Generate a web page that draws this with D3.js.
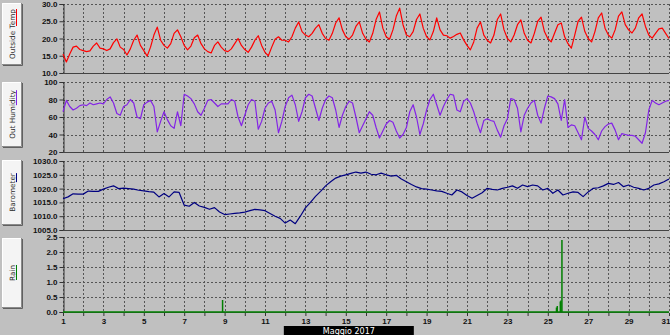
<!DOCTYPE html>
<html><head><meta charset="utf-8">
<script src="https://cdn.jsdelivr.net/npm/d3@7"></script>
<style>
html,body{margin:0;padding:0;background:#c0c0c0;}
svg{display:block;}
</style></head>
<body>
<svg id="chart" width="670" height="335"></svg>
<script>
// ---------------- DATA ----------------
const monthLabel = "Maggio 2017";
const dayTicks = d3.range(1, 32);            // 1..31
const dayLabels = d3.range(1, 32, 2);        // odd days labelled
const panelTitles = ["Outside Temp", "Out Humidity", "Barometer", "Rain"];

// Outside temp (°C), every 4 h from May 1 00:00
const tempValues = [
15.5,13.2,15.5,17.5,17.8,16.8,
16.5,16.2,16.4,17.8,18.7,17.2,
17.0,16.5,17.0,18.8,19.9,17.5,
16.8,15.2,17.0,19.5,21.0,18.0,
16.5,14.9,17.5,21.0,23.3,19.5,
18.0,17.2,18.5,21.5,22.5,20.5,
18.0,16.7,17.8,20.2,21.0,18.5,
17.0,16.2,15.8,18.0,19.0,17.5,
16.5,16.2,17.0,18.5,20.0,18.0,
16.8,16.0,17.5,19.5,20.8,18.0,
16.0,15.0,17.5,19.8,20.5,19.5,
19.5,19.0,20.5,23.0,24.8,22.0,
21.0,20.5,21.5,23.0,24.0,21.5,
20.0,19.5,21.5,24.5,26.0,22.5,
20.5,19.8,21.0,23.5,24.8,21.5,
19.8,19.0,21.5,25.5,27.7,23.0,
20.5,19.8,22.5,26.5,28.8,24.0,
21.0,20.5,22.0,25.5,27.1,23.0,
20.5,19.6,22.0,26.0,22.5,21.0,
20.8,20.1,20.6,21.2,21.6,19.6,
18.0,16.7,19.0,23.0,24.8,21.0,
19.5,18.7,21.0,25.5,27.1,22.5,
20.0,19.0,21.0,24.0,25.4,21.5,
19.5,18.7,21.5,25.0,26.2,22.0,
20.0,19.0,21.5,24.0,24.5,20.5,
18.5,17.2,21.0,25.0,26.2,22.0,
20.0,19.0,22.0,26.0,27.4,23.0,
21.0,20.1,22.5,26.5,27.7,24.0,
22.5,21.6,23.0,26.0,27.1,23.5,
21.0,20.1,21.5,22.8,23.0,21.5,
20.0];

// Outside humidity (%), every 4 h
const humValues = [
66,79,72,68,70,73,
74,73,76,74,75,76,
75,80,83,76,64,62,
72,74,80,76,60,58,
74,77,79,72,43,55,
66,57,50,47,66,50,
86,84,81,75,66,62,
70,79,80,76,72,75,
75,75,80,78,60,50,
62,74,80,78,46,55,
70,76,78,68,42,55,
72,82,85,74,55,66,
82,86,84,70,56,70,
80,84,82,68,48,62,
72,78,76,60,42,50,
58,66,62,48,36,44,
52,56,54,44,36,40,
48,66,74,60,40,52,
68,80,86,74,62,72,
80,86,85,68,66,78,
81,76,66,53,42,56,
58,56,55,45,37,50,
58,81,80,70,43,62,
70,76,79,62,53,70,
84,83,81,75,56,80,
48,51,50,42,34,60,
47,44,40,34,44,49,
52,53,45,34,41,40,
39,39,38,34,30,42,
68,79,76,74,76,78,
79];

// Barometer (hPa), every 6 h
const baroValues = [
1016.3,1017.0,1018.1,1018.0,
1018.0,1019.1,1019.0,1019.0,
1019.8,1020.5,1021.0,1020.0,
1020.2,1020.0,1019.8,1019.4,
1019.2,1018.9,1018.7,1017.0,
1018.2,1017.0,1018.8,1018.6,
1014.0,1013.6,1015.0,1013.7,
1013.2,1012.5,1013.1,1011.5,
1010.6,1010.8,1011.0,1011.2,
1011.5,1012.0,1012.5,1012.3,
1012.0,1011.0,1010.0,1009.2,
1007.5,1008.6,1007.3,1010.0,
1013.0,1015.0,1017.2,1019.0,
1021.0,1022.5,1023.8,1024.5,
1025.0,1025.5,1026.0,1025.6,
1026.0,1025.2,1025.0,1025.6,
1025.0,1024.5,1024.8,1023.5,
1022.5,1021.5,1020.6,1020.0,
1019.8,1019.5,1019.2,1019.0,
1018.3,1017.7,1019.5,1018.8,
1017.5,1016.5,1017.5,1018.5,
1020.1,1019.7,1019.5,1020.1,
1020.5,1021.0,1020.1,1021.3,
1020.7,1021.3,1021.0,1019.5,
1020.1,1018.3,1019.5,1017.7,
1018.3,1018.8,1018.6,1017.1,
1018.8,1020.1,1020.3,1021.0,
1021.9,1021.5,1022.2,1020.7,
1021.3,1020.5,1020.1,1019.5,
1020.1,1021.3,1021.7,1022.5,
1023.5];

// Rain events (day of month incl. fraction, mm)
const rainDays    = [8.9, 25.43, 25.47, 25.62, 25.65, 25.7];
const rainAmounts = [0.4, 0.15, 0.2, 0.35, 0.38, 2.4];

// Axis tick values
const tempTicks = [10, 15, 20, 25, 30];
const humTicks  = [20, 40, 60, 80, 100];
const baroTicks = [1005, 1010, 1015, 1020, 1025, 1030];
const rainTicks = [0, 0.5, 1.0, 1.5, 2.0, 2.5];

// ---------------- DRAW ----------------
const svg = d3.select("#chart");
const dayToDate = d => new Date(Date.UTC(2017, 4, 1) + (d - 1) * 864e5);
const x = d3.scaleUtc().domain([dayToDate(1), dayToDate(31)]).range([63, 669]);

const panels = [
  {title: panelTitles[0], values: tempValues, step: 4, domain: [10,30], range:[73,4], ticks: tempTicks, fmt: d3.format(".1f"), color:"#ff0000", btn:[3,65], ul:17},
  {title: panelTitles[1], values: humValues, step: 4, domain: [20,100], range:[152,82], ticks: humTicks, fmt: d3.format("d"), color:"#8424e6", btn:[82,147], ul:15},
  {title: panelTitles[2], values: baroValues, step: 6, domain: [1005,1030], range:[230,161], ticks: baroTicks, fmt: d3.format(".1f"), color:"#000080", btn:[160,225], ul:9},
  {title: panelTitles[3], values: null, step: 0, domain: [0,2.5], range:[312,237], ticks: rainTicks, fmt: d3.format(".1f"), color:"#008000", btn:[238,308], ul:15}
];

const labelFont = "'Liberation Sans', Arial, sans-serif";

panels.forEach((p, pi) => {
  const y = d3.scaleLinear().domain(p.domain).range(p.range);
  const g = svg.append("g");

  // button
  const b = g.append("g");
  const [b0, b1] = p.btn;
  b.append("rect").attr("x", 2).attr("y", b0).attr("width", 20).attr("height", b1 - b0).attr("fill", "#f4f4f4");
  b.append("path").attr("d", `M2.5,${b1}V${b0+0.5}H22`).attr("stroke", "#ffffff").attr("fill", "none");
  b.append("path").attr("d", `M2,${b1-0.5}H21.5V${b0}`).attr("stroke", "#8a8a8a").attr("fill", "none");
  b.append("path").attr("d", `M3,${b1+0.5}H22.5V${b0+1}`).attr("stroke", "#606060").attr("fill", "none");
  const cy = (b0 + b1) / 2;
  const t = b.append("text")
    .attr("transform", `translate(14.5,${cy}) rotate(-90)`)
    .attr("text-anchor", "middle")
    .attr("font-family", "Tahoma, 'DejaVu Sans', sans-serif")
    .attr("font-size", 7.3)
    .attr("fill", "#303030")
    .text(p.title);
  const len = t.node().getComputedTextLength();
  const top = cy - len / 2;
  b.append("line").attr("x1", 16.5).attr("x2", 16.5).attr("y1", top).attr("y2", top + p.ul)
    .attr("stroke", p.color).attr("stroke-width", 1);

  // horizontal grid
  g.append("g").selectAll("line").data(p.ticks).join("line")
    .attr("x1", 63).attr("x2", 669)
    .attr("y1", d => Math.round(y(d)) + 0.5).attr("y2", d => Math.round(y(d)) + 0.5)
    .attr("stroke", "#555").attr("stroke-width", 1).attr("stroke-dasharray", "2,2");
  // vertical grid (every day)
  g.append("g").selectAll("line").data(dayTicks).join("line")
    .attr("x1", d => Math.round(x(dayToDate(d))) + 0.5).attr("x2", d => Math.round(x(dayToDate(d))) + 0.5)
    .attr("y1", p.range[1]).attr("y2", p.range[0])
    .attr("stroke", "#555").attr("stroke-width", 1).attr("stroke-dasharray", "2,2");

  // y axis
  const ax = d3.axisLeft(y).tickValues(p.ticks).tickFormat(p.fmt).tickSize(4).tickPadding(2);
  const axG = g.append("g").attr("transform", "translate(63.5,0)").call(ax);
  axG.select(".domain").attr("stroke", "#333");
  axG.selectAll(".tick line").attr("stroke", "#333");
  axG.selectAll(".tick text").attr("font-family", labelFont).attr("font-weight", "bold")
    .attr("font-size", 8).attr("fill", "#111");
  // bottom solid line
  g.append("line").attr("x1", 63).attr("x2", 669)
    .attr("y1", Math.round(p.range[0]) + 0.5).attr("y2", Math.round(p.range[0]) + 0.5)
    .attr("stroke", "#444");

  if (p.values) {
    const pts = p.values.map((v, i) => [dayToDate(1 + i * p.step / 24), v]);
    g.append("path").datum(pts)
      .attr("d", d3.line().x(d => x(d[0])).y(d => y(d[1])))
      .attr("fill", "none").attr("stroke", p.color).attr("stroke-width", 1.2)
      .attr("stroke-linejoin", "round");
  } else {
    // rain baseline + bars
    g.append("line").attr("x1", 63).attr("x2", 669)
      .attr("y1", y(0)).attr("y2", y(0)).attr("stroke", p.color).attr("stroke-width", 1.5);
    g.append("g").selectAll("line").data(rainDays.map((d, i) => [d, rainAmounts[i]])).join("line")
      .attr("x1", d => x(dayToDate(d[0]))).attr("x2", d => x(dayToDate(d[0])))
      .attr("y1", y(0)).attr("y2", d => y(d[1]))
      .attr("stroke", p.color).attr("stroke-width", 1.5);

    // x axis
    const dayOf = d => Math.round((d - dayToDate(1)) / 864e5) + 1;
    const xa = d3.axisBottom(x).tickValues(dayTicks.map(dayToDate)).tickSize(3).tickPadding(2)
      .tickFormat(d => dayLabels.includes(dayOf(d)) ? dayOf(d) : "");
    const xG = g.append("g").attr("transform", `translate(0,${y(0) + 1})`).call(xa);
    xG.select(".domain").remove();
    xG.selectAll(".tick line").attr("stroke", "#333");
    xG.selectAll(".tick text").attr("font-family", labelFont).attr("font-weight", "bold")
      .attr("font-size", 8).attr("fill", "#111")
      .attr("text-anchor", d => dayOf(d) === 31 ? "end" : "middle")
      .attr("dx", d => dayOf(d) === 31 ? 1 : 0);
  }
});

// month label box
const mid = x(dayToDate(15.15));
svg.append("rect").attr("x", mid - 65).attr("y", 326).attr("width", 130).attr("height", 12).attr("fill", "#000");
svg.append("text").attr("x", mid).attr("y", 333.5).attr("text-anchor", "middle")
  .attr("font-family", "Tahoma, 'DejaVu Sans', sans-serif").attr("font-size", 8).attr("fill", "#fff")
  .text(monthLabel);
</script>
</body></html>
